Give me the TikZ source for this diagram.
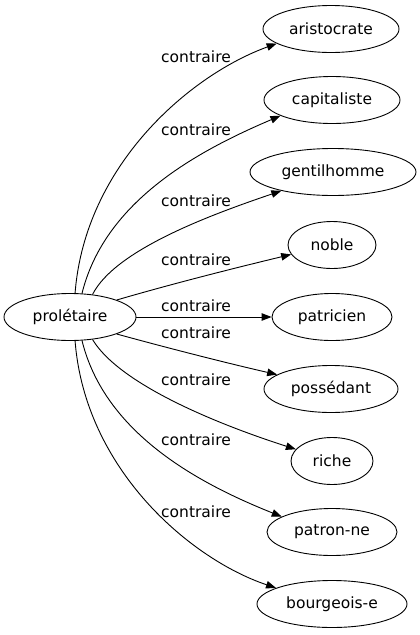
\documentclass[tikz,border=0pt]{standalone}
\usepackage{fontspec}
\setmainfont{DejaVu Sans}
\usetikzlibrary{shapes.geometric,arrows.meta}
\begin{document}
\begin{tikzpicture}[x=1pt,y=-1pt,
  font=\fontsize{15.5}{18}\selectfont,
  word/.style={ellipse, draw, line width=0.9pt, inner sep=0pt, minimum height=47pt},
  rel/.style={line width=0.9pt, -{Triangle[length=10pt,width=7.5pt]}},
  lbl/.style={inner sep=0pt}]
\useasboundingbox (0,0) rectangle (420,635);
\node[word, minimum width=132pt] (p) at (70,317) {prolétaire};
\node[word, minimum width=136pt] (a1) at (331,29) {aristocrate};
\node[word, minimum width=136pt] (a2) at (332,100) {capitaliste};
\node[word, minimum width=166pt] (a3) at (333,172) {gentilhomme};
\node[word, minimum width=88pt] (a4) at (332,245) {noble};
\node[word, minimum width=120pt] (a5) at (332,317) {patricien};
\node[word, minimum width=134pt] (a6) at (331,389) {possédant};
\node[word, minimum width=82pt] (a7) at (332,461) {riche};
\node[word, minimum width=130pt] (a8) at (332,532) {patron‑ne};
\node[word, minimum width=150pt] (a9) at (332,604) {bourgeois‑e};

\draw[rel] (p.78) .. controls (85,165) and (190,75) .. (a1.195.5);
\draw[rel] (p.63.4) .. controls (105,200) and (200,150) .. (a2.197);
\draw[rel] (p.45) .. controls (115,250) and (210,215) .. (a3.200);
\draw[rel] (p.20.8) .. controls (175,283) and (235,268) .. (a4.193.4);
\draw[rel] (p) -- (a5);
\draw[rel] (p.-20.8) .. controls (175,350) and (235,365) .. (a6.165.5);
\draw[rel] (p.-45) .. controls (120,385) and (220,425) .. (a7.162.8);
\draw[rel] (p.-63.4) .. controls (105,434) and (200,484) .. (a8.163.9);
\draw[rel] (p.-78) .. controls (85,469) and (190,559) .. (a9.164.8);

\node[lbl] (l1) at (196,57) {contraire};
\node[lbl] (l2) at (196,130) {contraire};
\node[lbl] (l3) at (196,201) {contraire};
\node[lbl] (l4) at (196,260) {contraire};
\node[lbl] (l5) at (196,306) {contraire};
\node[lbl] (l6) at (196,333) {contraire};
\node[lbl] (l7) at (196,380) {contraire};
\node[lbl] (l8) at (196,440) {contraire};
\node[lbl] (l9) at (196,512) {contraire};
\end{tikzpicture}
\end{document}
